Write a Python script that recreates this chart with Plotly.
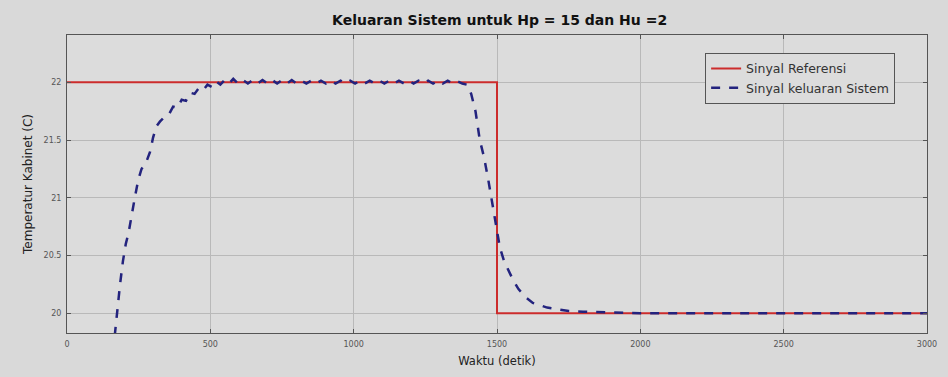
import plotly.graph_objects as go

# Reference signal
ref_t = [0, 1500, 1500, 3000]
ref_y = [22.0, 22.0, 20.0, 20.0]

# System output
out_t = [160, 175, 185, 195, 205, 215, 225, 235, 248, 260, 275, 290, 300, 312, 324, 340,
         355, 370, 385, 400, 415, 430, 445, 460, 475, 490, 505, 520, 535, 550, 565, 580,
         597, 614, 631, 648, 665, 682, 699, 716, 733, 750, 767, 784, 801, 818, 835, 852,
         869, 886, 903, 920, 937, 954, 971, 988, 1005, 1022, 1039, 1056, 1073, 1090, 1107,
         1124, 1141, 1158, 1175, 1192, 1209, 1226, 1243, 1260, 1277, 1294, 1311, 1328,
         1345, 1362, 1379, 1395, 1410, 1425, 1440, 1455, 1470, 1486, 1500, 1510, 1525,
         1540, 1556, 1575, 1600, 1625, 1650, 1675, 1700, 1750, 1800, 1850, 1900, 2000,
         2200, 2400, 2600, 2800, 3000]
out_y = [19.65, 20.05, 20.25, 20.45, 20.60, 20.70, 20.85, 20.98, 21.15, 21.25, 21.30, 21.40,
         21.52, 21.62, 21.66, 21.70, 21.72, 21.79, 21.78, 21.85, 21.84, 21.91, 21.90, 21.95,
         21.93, 21.98, 21.96, 22.01, 21.98, 22.02, 21.99, 22.03, 21.99, 22.02, 21.99, 22.02,
         21.99, 22.02, 21.99, 22.02, 21.99, 22.02, 21.99, 22.02, 21.99, 22.015, 21.99, 22.015,
         21.99, 22.015, 21.99, 22.015, 21.99, 22.015, 21.99, 22.015, 21.99, 22.015, 21.99,
         22.015, 21.99, 22.015, 21.99, 22.015, 21.99, 22.015, 21.99, 22.015, 21.99, 22.015,
         21.99, 22.015, 21.99, 22.015, 21.99, 22.015, 21.99, 22.01, 21.99, 21.98, 21.90,
         21.75, 21.50, 21.35, 21.15, 20.92, 20.70, 20.57, 20.45, 20.37, 20.29, 20.21, 20.14,
         20.09, 20.07, 20.05, 20.04, 20.02, 20.015, 20.01, 20.005, 20.0, 20.0, 20.0, 20.0,
         20.0, 20.0]

x_ticks = [0, 500, 1000, 1500, 2000, 2500, 3000]
y_ticks = [20, 20.5, 21, 21.5, 22]
y_tick_text = ["20", "20.5", "21", "21.5", "22"]

fig = go.Figure()
fig.add_trace(go.Scatter(x=ref_t, y=ref_y, mode="lines", name="Sinyal Referensi",
                         line=dict(color="#cc2c2c", width=2)))
fig.add_trace(go.Scatter(x=out_t, y=out_y, mode="lines", name="Sinyal keluaran Sistem",
                         line=dict(color="#23237e", width=2.5, dash="dash")))

axis_common = dict(showline=True, linecolor="#555555", linewidth=1, mirror="ticks",
                   ticks="inside", ticklen=4, tickcolor="#555555",
                   showgrid=True, gridcolor="#b9b9b9", gridwidth=1, zeroline=False,
                   tickfont=dict(size=8, color="#555555"), ticklabelstandoff=3)

fig.update_layout(
    width=948, height=377,
    margin=dict(l=67, r=21, t=35, b=44),
    paper_bgcolor="#d9d9d9", plot_bgcolor="#dcdcdc",
    font=dict(family="DejaVu Sans, Liberation Sans, sans-serif", color="#222222"),
    title=dict(text="<b>Keluaran Sistem untuk Hp = 15 dan Hu =2</b>", x=0.527, xanchor="center",
               y=0.947, yanchor="middle", font=dict(size=14, color="#111111")),
    xaxis=dict(range=[0, 3000], tickvals=x_ticks, title=dict(text="Waktu (detik)", standoff=9,
               font=dict(size=11.5)), **axis_common),
    yaxis=dict(range=[19.83, 22.41], tickvals=y_ticks, ticktext=y_tick_text,
               title=dict(text="Temperatur Kabinet (C)", standoff=8, font=dict(size=12)),
               **axis_common),
    legend=dict(x=0.742, y=0.94, xanchor="left", yanchor="top", bgcolor="#dcdcdc",
                bordercolor="#555555", borderwidth=1, font=dict(size=12.5, color="#333333"),
                tracegroupgap=0, itemwidth=30),
    showlegend=True,
)

fig.write_html("out.html")
